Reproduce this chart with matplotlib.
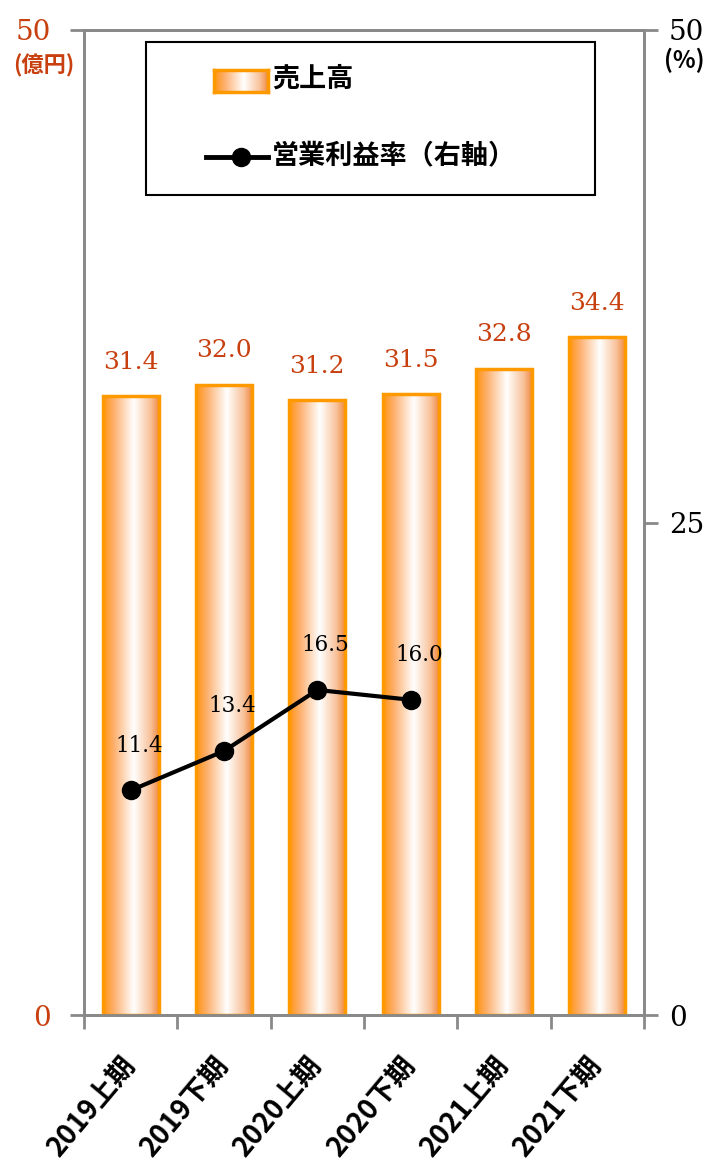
import matplotlib
matplotlib.use("Agg")
import matplotlib.pyplot as plt
import matplotlib.patches as mpatches
from matplotlib.colors import LinearSegmentedColormap
from matplotlib.lines import Line2D
import numpy as np

periods = ["2019上期", "2019下期", "2020上期", "2020下期", "2021上期", "2021下期"]
sales = [31.4, 32.0, 31.2, 31.5, 32.8, 34.4]          # 売上高 (億円)
margin_periods = ["2019上期", "2019下期", "2020上期", "2020下期"]
margin = [11.4, 13.4, 16.5, 16.0]                      # 営業利益率 (%)

jp = ["Noto Sans CJK JP", "DejaVu Sans"]
serif = ["DejaVu Serif"]
bar_edge = "#FF9900"
lab_col = "#C8400F"
grid_col = "#898989"

grad_cmap = LinearSegmentedColormap.from_list(
    "bar_grad", [(0.0, "#FF9410"), (0.2, "#FDB070"), (0.55, "#FFFFFF"),
                 (0.85, "#F8C29A"), (1.0, "#F08C44")])
grad = np.linspace(0, 1, 256).reshape(1, -1)

fig = plt.figure(figsize=(7.25, 11.6), dpi=100)
ax = fig.add_axes([84 / 725, 145 / 1160, 560 / 725, 985 / 1160])
ax2 = ax.twinx()

x = np.arange(len(periods))

# ── bars with horizontal gradient ─────────────────────────────────────────
bars = ax.bar(x, sales, width=0.6, facecolor="none",
              edgecolor=bar_edge, linewidth=2.5, zorder=3)
for b in bars:
    ax.imshow(grad, extent=[b.get_x(), b.get_x() + b.get_width(), 0, b.get_height()],
              aspect="auto", cmap=grad_cmap, zorder=2, interpolation="bicubic")
for b, v in zip(bars, sales):
    ax.annotate(f"{v:.1f}", (b.get_x() + b.get_width() / 2, b.get_height()),
                xytext=(0, 20), textcoords="offset points",
                ha="center", va="baseline", fontsize=18,
                family=serif, color=lab_col)

ax.set_xlim(-0.5, len(periods) - 0.5)
ax.set_ylim(0, 50)

# ── operating margin line (right axis) ────────────────────────────────────
mx = [periods.index(p) for p in margin_periods]
ax2.plot(mx, margin, color="black", linewidth=3, marker="o",
         markersize=13, zorder=5)
for xi, v in zip(mx, margin):
    ax2.annotate(f"{v:.1f}", (xi, v), xytext=(6, 28), textcoords="offset points",
                 ha="center", va="baseline", fontsize=15.5,
                 family=serif, color="black")
ax2.set_ylim(0, 50)

# ── axes styling ──────────────────────────────────────────────────────────
for a in (ax, ax2):
    for sp in a.spines.values():
        sp.set_color(grid_col)
        sp.set_linewidth(2)
ax.set_zorder(ax2.get_zorder() - 1)
ax2.patch.set_visible(False)

ax.set_yticks([0, 50])
ax.set_yticklabels(["0", "50"], family=serif)
ax.tick_params(axis="y", length=10, width=2, color=grid_col,
               labelsize=20, labelcolor=lab_col, pad=14)
ax2.set_yticks([0, 25, 50])
ax2.set_yticklabels(["0", "25", "50"], family=serif)
ax2.tick_params(axis="y", length=10, width=2, color=grid_col,
                labelsize=20, labelcolor="black", pad=8)

ax.set_xticks(x)
ax.set_xticklabels(periods, rotation=50, ha="right", va="center",
                   rotation_mode="anchor", fontsize=20, fontweight="bold",
                   family=jp)
ax.tick_params(axis="x", which="major", length=0, pad=32)
ax.set_xticks(np.arange(-0.5, len(periods)), minor=True)
ax.tick_params(axis="x", which="minor", length=10, width=2, color=grid_col)

fig.text(13 / 725, 1 - 66 / 1160, "(億円)", fontsize=16, fontweight="bold",
         color=lab_col, family=jp, va="center")
fig.text(664 / 725, 1 - 60 / 1160, "(%)", fontsize=17, fontweight="bold",
         color="black", family=jp, va="center")

# ── legend box ────────────────────────────────────────────────────────────
lx0, ly0, lx1, ly1 = 146, 42, 595, 195
fig.patches.append(mpatches.Rectangle(
    (lx0 / 725, 1 - ly1 / 1160), (lx1 - lx0) / 725, (ly1 - ly0) / 1160,
    transform=fig.transFigure, facecolor="white", edgecolor="black",
    linewidth=1.5, zorder=10))
sw = fig.add_axes([214 / 725, 1 - 92 / 1160, 54 / 725, 22 / 1160], zorder=11)
sw.imshow(grad, aspect="auto", cmap=grad_cmap, extent=[0, 1, 0, 1])
sw.set_xticks([]); sw.set_yticks([])
for sp in sw.spines.values():
    sp.set_color(bar_edge)
    sp.set_linewidth(2.5)
fig.lines.append(Line2D([206 / 725, 268 / 725], [1 - 157 / 1160] * 2,
                        transform=fig.transFigure, color="black",
                        linewidth=3.5, zorder=11))
fig.lines.append(Line2D([241 / 725], [1 - 157 / 1160], transform=fig.transFigure,
                        color="black", marker="o", markersize=13, zorder=12))
fig.text(272 / 725, 1 - 79 / 1160, "売上高", fontsize=19.5, fontweight="bold",
         family=jp, va="center", zorder=12)
fig.text(272 / 725, 1 - 155 / 1160, "営業利益率（右軸）", fontsize=19.5,
         fontweight="bold", family=jp, va="center", zorder=12)

fig.savefig("out.png", dpi=100)
